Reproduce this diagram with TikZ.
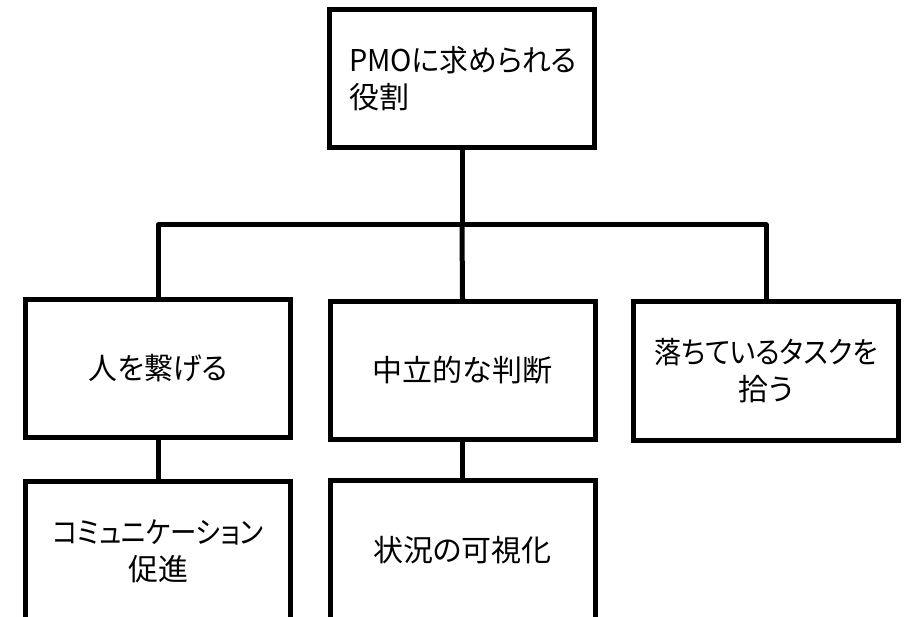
\documentclass[tikz,border=0pt]{standalone}
\usepackage{graphicx}
\usepackage{fontspec}
\setmainfont{Noto Sans CJK JP}[RawFeature={+palt}]
\newcommand{\narrowtxt}[2]{\scalebox{#1}[1]{#2}}
\begin{document}
\begin{tikzpicture}[x=1pt,y=-1pt,
  boxnode/.style={draw=black, line width=5pt, rectangle, fill=white,
    minimum width=265pt, minimum height=138pt, inner sep=0pt,
    text width=240pt, align=center,
    font=\fontsize{30pt}{37pt}\selectfont},
  conn/.style={draw=black, line width=5pt}
]
\useasboundingbox (0,0) rectangle (904,617);
\clip (0,0) rectangle (904,617);
\fill[white] (0,0) rectangle (904,617);

\node[boxnode, text width=226pt, align=left] (top) at (462,79) {\narrowtxt{0.96}{PMOに求められる}\\役割};
\node[boxnode] (left) at (158,368.5) {\narrowtxt{0.96}{人を繋げる}};
\node[boxnode] (mid) at (462.5,370.5) {中立的な判断};
\node[boxnode] (right) at (766,371) {\narrowtxt{0.905}{落ちているタスクを}\\拾う};
\node[boxnode, minimum height=140pt] (lowleft) at (158,551) {\narrowtxt{0.88}{コミュニケーション}\\促進};
\node[boxnode, minimum height=140pt] (lowmid) at (462.5,550) {状況の可視化};

\coordinate (bus) at (462,225);

\draw[conn] (top.south) -- (bus);
\draw[conn, line join=round] (left.north) |- (bus) -| (right.north);
\draw[conn] (bus) -- (mid.north);
\draw[conn] (left.south) -- (lowleft.north);
\draw[conn] (mid.south) -- (lowmid.north);
\end{tikzpicture}
\end{document}
